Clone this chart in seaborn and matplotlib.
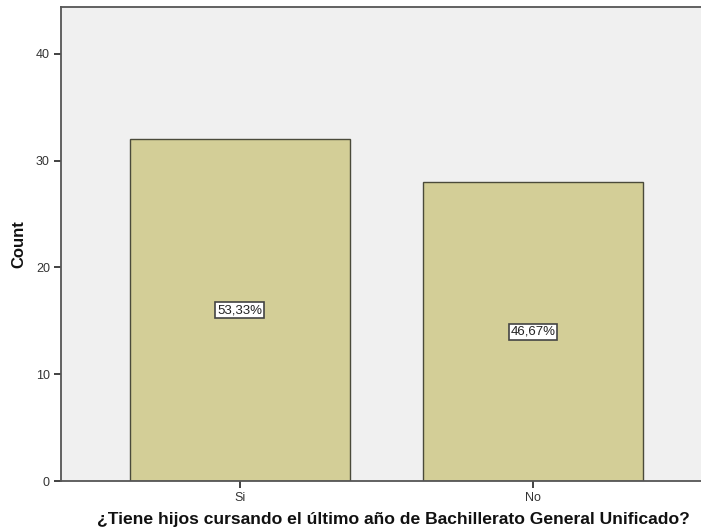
import matplotlib
matplotlib.use("Agg")
import matplotlib.pyplot as plt
import seaborn as sns
import pandas as pd

categories = ["Si", "No"]
counts = [32, 28]
percent_labels = ["53,33%", "46,67%"]

sns.set_theme(style="white")
plt.rcParams["font.family"] = ["Liberation Sans", "DejaVu Sans"]

df = pd.DataFrame({"respuesta": categories, "count": counts})

W, H = 701, 532
fig = plt.figure(figsize=(W / 100, H / 100), dpi=100)
ax = fig.add_axes([61 / W, (H - 481) / H, (W - 61) / W, (481 - 7) / H])
ax.set_facecolor("#F0F0F0")

sns.barplot(data=df, x="respuesta", y="count", order=categories,
            color="#D3CE97", saturation=1, width=0.75,
            edgecolor="#4A4A3A", linewidth=1.0, ax=ax)

for i, (c, lab) in enumerate(zip(counts, percent_labels)):
    ax.text(i, c / 2, lab, ha="center", va="center", fontsize=9.5, color="#222222",
            bbox=dict(boxstyle="square,pad=0.15", facecolor="white",
                      edgecolor="#444444", linewidth=1.2))

ax.set_xlim(-0.61, 1.573)
ax.set_ylim(0, 44.4)
ax.set_yticks([0, 10, 20, 30, 40])

for side in ["left", "bottom", "top"]:
    ax.spines[side].set_visible(True)
    ax.spines[side].set_color("#555555")
    ax.spines[side].set_linewidth(1.3)
ax.spines["right"].set_visible(False)

ax.tick_params(axis="both", which="both", length=5, width=1.3, color="#333333",
               labelsize=9, labelcolor="#333333", pad=3)
ax.tick_params(left=True, bottom=True)

ax.set_ylabel("Count", fontsize=12, fontweight="bold", color="#111111", labelpad=7)
ax.set_xlabel("¿Tiene hijos cursando el último año de Bachillerato General Unificado?",
              fontsize=12.6, fontweight="bold", color="#111111", labelpad=6)
ax.xaxis.label.set_x(0.519)

fig.savefig("out.png", dpi=100)
